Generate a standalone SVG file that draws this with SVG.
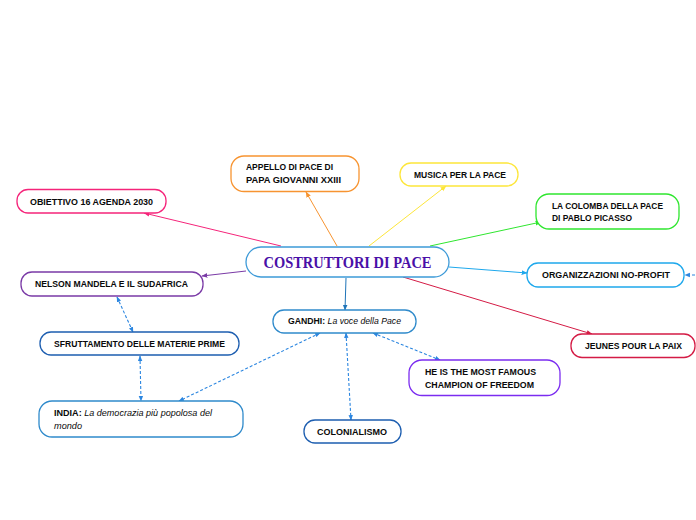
<svg xmlns="http://www.w3.org/2000/svg" width="696" height="520" viewBox="0 0 696 520">
<style>
.n{fill:#fff;stroke-width:1.3}
.t{font-family:"Liberation Sans",Arial,sans-serif;font-weight:bold;font-size:9.2px;fill:#0a0a0a}
.i{font-style:italic;font-weight:normal}
.c{fill:none;stroke-width:1}
.d{fill:none;stroke:#2b86e0;stroke-width:1.1;stroke-dasharray:3 2;marker-start:url(#ad);marker-end:url(#ad)}
</style>
<defs>
<marker id="ap" viewBox="0 0 10 10" refX="9" refY="5" markerWidth="6" markerHeight="6" orient="auto"><path d="M0,1L10,5L0,9z" fill="#f5247a"/></marker>
<marker id="ao" viewBox="0 0 10 10" refX="9" refY="5" markerWidth="6" markerHeight="6" orient="auto"><path d="M0,1L10,5L0,9z" fill="#f79431"/></marker>
<marker id="ay" viewBox="0 0 10 10" refX="9" refY="5" markerWidth="6" markerHeight="6" orient="auto"><path d="M0,1L10,5L0,9z" fill="#fde63a"/></marker>
<marker id="ag" viewBox="0 0 10 10" refX="9" refY="5" markerWidth="6" markerHeight="6" orient="auto"><path d="M0,1L10,5L0,9z" fill="#2fe62f"/></marker>
<marker id="al" viewBox="0 0 10 10" refX="9" refY="5" markerWidth="6" markerHeight="6" orient="auto"><path d="M0,1L10,5L0,9z" fill="#1ea8ec"/></marker>
<marker id="ar" viewBox="0 0 10 10" refX="9" refY="5" markerWidth="6" markerHeight="6" orient="auto"><path d="M0,1L10,5L0,9z" fill="#d41b45"/></marker>
<marker id="au" viewBox="0 0 10 10" refX="9" refY="5" markerWidth="6" markerHeight="6" orient="auto"><path d="M0,1L10,5L0,9z" fill="#7a3aa6"/></marker>
<marker id="ab" viewBox="0 0 10 10" refX="9" refY="5" markerWidth="6" markerHeight="6" orient="auto"><path d="M0,1L10,5L0,9z" fill="#1f74b8"/></marker>
<marker id="ad" viewBox="0 0 10 10" refX="9" refY="5" markerWidth="5" markerHeight="5" orient="auto-start-reverse"><path d="M0,1L10,5L0,9z" fill="#2b86e0"/></marker>
</defs>
<rect width="696" height="520" fill="#fff"/>
<g id="connectors">
<line class="c" x1="281" y1="246" x2="144" y2="213" stroke="#f5247a" marker-end="url(#ap)"/>
<line class="c" x1="337" y1="246" x2="306" y2="192" stroke="#f79431" marker-end="url(#ao)"/>
<line class="c" x1="369" y1="246" x2="446" y2="186" stroke="#fde63a" marker-end="url(#ay)"/>
<line class="c" x1="430" y1="246" x2="541" y2="222" stroke="#2fe62f" marker-end="url(#ag)"/>
<line class="c" x1="449" y1="267" x2="527" y2="273" stroke="#1ea8ec" marker-end="url(#al)"/>
<line class="c" x1="403" y1="277" x2="592" y2="334" stroke="#d41b45" marker-end="url(#ar)"/>
<line class="c" x1="246" y1="271" x2="202" y2="276" stroke="#7a3aa6" marker-end="url(#au)"/>
<line class="c" x1="346" y1="278" x2="345" y2="310" stroke="#1f74b8" marker-end="url(#ab)"/>
<line class="d" x1="117" y1="297" x2="133" y2="332"/>
<line class="d" x1="140" y1="356" x2="141" y2="401"/>
<line class="d" x1="320" y1="333" x2="179" y2="401"/>
<line class="d" x1="346" y1="333" x2="351" y2="420"/>
<line class="d" x1="373" y1="333" x2="440" y2="360"/>
<path d="M700,275H685" fill="none" stroke="#2b86e0" stroke-width="1.1" stroke-dasharray="3 2" marker-end="url(#ad)"/>
</g>
<g id="center">
<rect class="n" x="246" y="247" width="203" height="30" rx="15" stroke="#3d9ad8"/>
<text x="347.5" y="267.5" text-anchor="middle" font-family="Liberation Serif,serif" font-weight="bold" font-size="17" fill="#4a10a8" textLength="168" lengthAdjust="spacingAndGlyphs">COSTRUTTORI DI PACE</text>
</g>
<g id="obiettivo">
<rect class="n" x="17" y="189.5" width="149" height="23.5" rx="11" stroke="#f5247a"/>
<text class="t" x="30" y="204.5" textLength="123" lengthAdjust="spacingAndGlyphs">OBIETTIVO 16 AGENDA 2030</text>
</g>
<g id="appello">
<rect class="n" x="231" y="156" width="128" height="35.5" rx="13" stroke="#f79431"/>
<text class="t" x="246" y="170" textLength="87" lengthAdjust="spacingAndGlyphs">APPELLO DI PACE DI</text>
<text class="t" x="246" y="182.5" textLength="95" lengthAdjust="spacingAndGlyphs">PAPA GIOVANNI XXIII</text>
</g>
<g id="musica">
<rect class="n" x="400" y="163" width="118" height="23" rx="11" stroke="#fde63a"/>
<text class="t" x="414" y="178" textLength="92" lengthAdjust="spacingAndGlyphs">MUSICA PER LA PACE</text>
</g>
<g id="colomba">
<rect class="n" x="536" y="194" width="143" height="35" rx="13" stroke="#2fe62f"/>
<text class="t" x="552" y="209" textLength="111" lengthAdjust="spacingAndGlyphs">LA COLOMBA DELLA PACE</text>
<text class="t" x="552" y="221" textLength="80" lengthAdjust="spacingAndGlyphs">DI PABLO PICASSO</text>
</g>
<g id="organizzazioni">
<rect class="n" x="527" y="263" width="157" height="24" rx="11" stroke="#1ea8ec"/>
<text class="t" x="542" y="278" textLength="128" lengthAdjust="spacingAndGlyphs">ORGANIZZAZIONI NO-PROFIT</text>
</g>
<g id="nelson">
<rect class="n" x="21" y="272" width="182" height="24" rx="11" stroke="#7a3aa6"/>
<text class="t" x="35" y="287" textLength="153" lengthAdjust="spacingAndGlyphs">NELSON MANDELA E IL SUDAFRICA</text>
</g>
<g id="jeunes">
<rect class="n" x="571" y="334" width="124" height="23.5" rx="11" stroke="#d41b45"/>
<text class="t" x="585" y="348.5" textLength="97" lengthAdjust="spacingAndGlyphs">JEUNES POUR LA PAIX</text>
</g>
<g id="gandhi">
<rect class="n" x="273" y="310" width="143" height="23" rx="11" stroke="#2f8acb"/>
<text class="t" x="288" y="324" textLength="113" lengthAdjust="spacingAndGlyphs">GANDHI: <tspan class="i">La voce della Pace</tspan></text>
</g>
<g id="sfruttamento">
<rect class="n" x="40" y="332" width="199" height="23" rx="11" stroke="#1d5eb0"/>
<text class="t" x="54" y="347" textLength="171" lengthAdjust="spacingAndGlyphs">SFRUTTAMENTO DELLE MATERIE PRIME</text>
</g>
<g id="heis">
<rect class="n" x="409" y="360" width="151" height="35.5" rx="13" stroke="#7b2cf0"/>
<text class="t" x="425" y="375" textLength="111" lengthAdjust="spacingAndGlyphs">HE IS THE MOST FAMOUS</text>
<text class="t" x="425" y="387.5" textLength="109" lengthAdjust="spacingAndGlyphs">CHAMPION OF FREEDOM</text>
</g>
<g id="india">
<rect class="n" x="39" y="401" width="204" height="36" rx="13" stroke="#2f8acb"/>
<text class="t" x="54" y="416" textLength="158" lengthAdjust="spacingAndGlyphs">INDIA: <tspan class="i">La democrazia più popolosa del</tspan></text>
<text class="t i" x="54" y="428.5" textLength="28" lengthAdjust="spacingAndGlyphs">mondo</text>
</g>
<g id="colonialismo">
<rect class="n" x="304" y="420" width="97" height="23" rx="11" stroke="#1d5eb0"/>
<text class="t" x="317" y="434.5" textLength="70" lengthAdjust="spacingAndGlyphs">COLONIALISMO</text>
</g>
</svg>
